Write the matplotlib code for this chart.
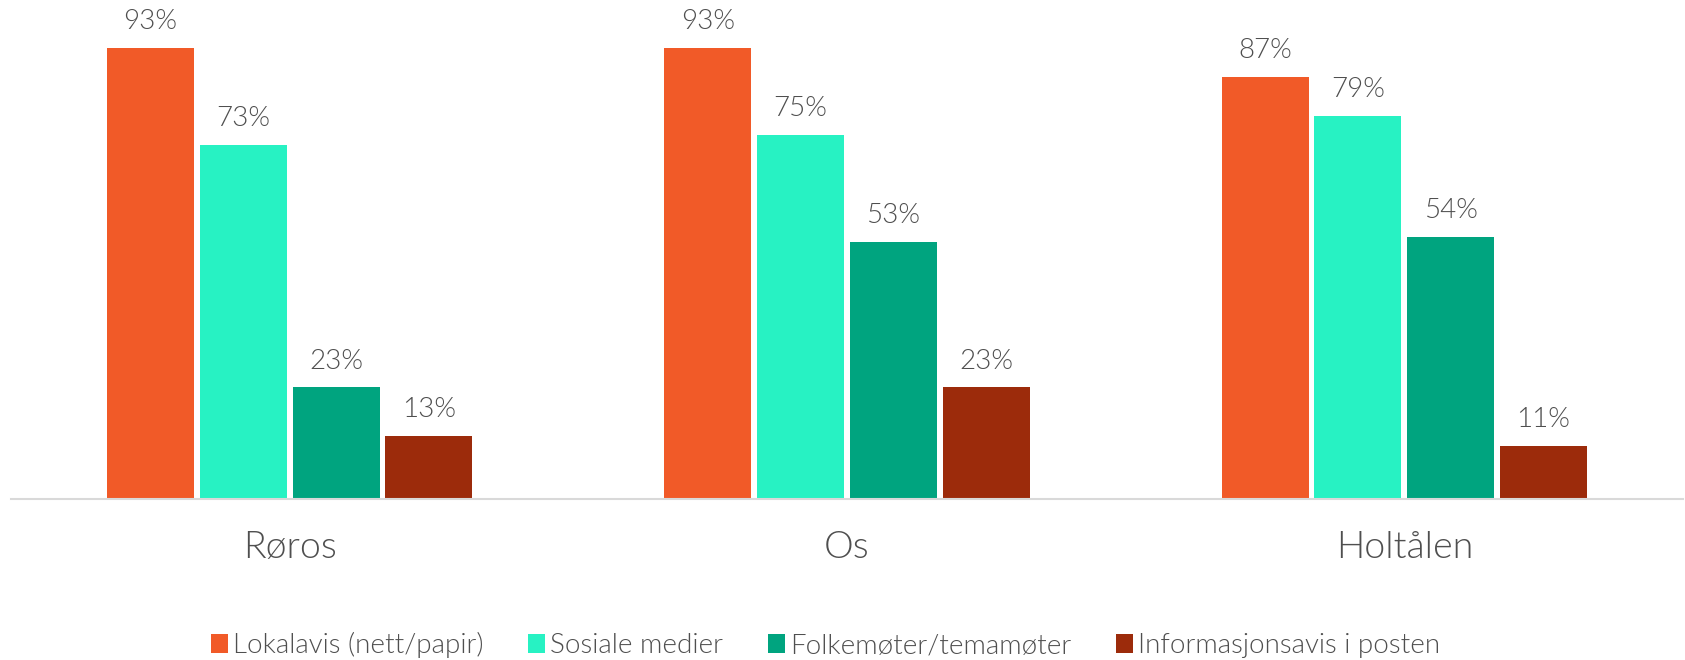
import matplotlib
matplotlib.use("Agg")
import matplotlib.pyplot as plt
import numpy as np

plt.rcParams['font.family'] = ['Lato', 'DejaVu Sans']

categories = ["Røros", "Os", "Holtålen"]
series_names = ["Lokalavis (nett/papir)", "Sosiale medier", "Folkemøter/temamøter", "Informasjonsavis i posten"]
lokalavis = [93, 93, 87]
sosiale = [73, 75, 79]
folkemoter = [23, 53, 54]
infoavis = [13, 23, 11]
colors = ["#F15A28", "#27F2C3", "#00A47F", "#9C2B0B"]

series = [lokalavis, sosiale, folkemoter, infoavis]

fig = plt.figure(figsize=(16.85, 6.6), dpi=100)
ax = fig.add_axes([11/1685, 161/660, 1 - 13/1685, (499 - 14)/660])

x = np.arange(len(categories))
step = 0.1665
width = 0.156
text_color = "#4F4F4F"
fw = 300
for i, (vals, col, name) in enumerate(zip(series, colors, series_names)):
    pos = x + (i - 1.5) * step
    bars = ax.bar(pos, vals, width=width, color=col, label=name, zorder=2)
    for b, v in zip(bars, vals):
        ax.annotate(f"{v}%", (b.get_x() + b.get_width()/2, v), xytext=(0, 19),
                    textcoords="offset points", ha="center", va="center",
                    fontsize=20, color=text_color, fontweight=fw)

ax.set_xlim(-0.5, 2.5)
ax.set_ylim(0, 100)
ax.set_xticks(x)
ax.set_xticklabels(categories, fontsize=27, color=text_color, fontweight=fw)
ax.tick_params(axis='x', length=0, pad=23)
ax.set_yticks([])
for s in ["top", "right", "left"]:
    ax.spines[s].set_visible(False)
ax.spines["bottom"].set_color("#D9D9D9")
ax.spines["bottom"].set_linewidth(1.5)
ax.spines["bottom"].set_zorder(3)

handles, labels = ax.get_legend_handles_labels()
leg = fig.legend(handles, labels, loc="center", bbox_to_anchor=(0.49, 1 - 645/660),
                 ncol=4, frameon=False, prop={'size': 20, 'weight': fw},
                 handlelength=0.6, handleheight=0.7,
                 handletextpad=0.2, columnspacing=1.6, labelcolor=text_color)

fig.savefig("out.png", dpi=100)
